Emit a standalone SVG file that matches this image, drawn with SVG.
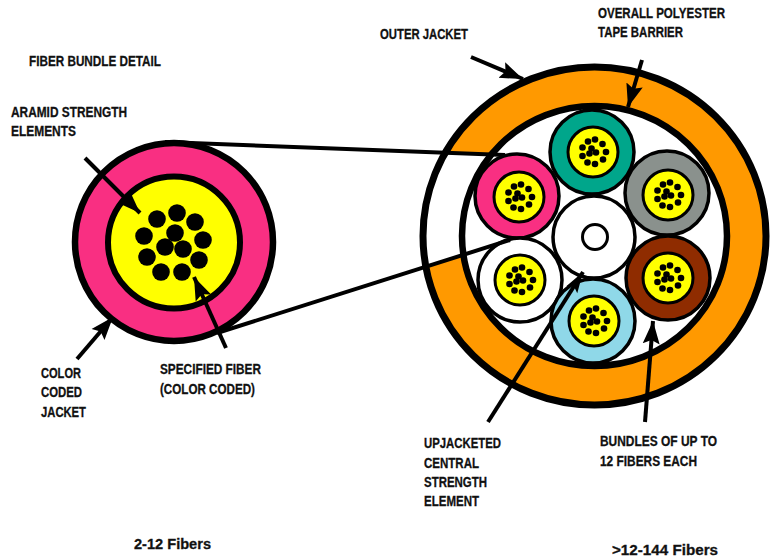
<svg xmlns="http://www.w3.org/2000/svg" width="775" height="559" viewBox="0 0 775 559">
<style>
text{font-family:"Liberation Sans",Arial,sans-serif;font-weight:700;font-size:14.500px;fill:#111;stroke:#111;stroke-width:.3}
.k{stroke:#000;fill:none}
.bj{stroke:#000;stroke-width:3.500}
.by{fill:#ff0;stroke:#000;stroke-width:3}
.ln{stroke:#000;stroke-width:4;fill:none}
</style>
<defs>
<marker id="ah" markerUnits="userSpaceOnUse" markerWidth="26" markerHeight="22" refX="23" refY="11" orient="auto">
<path d="M0 2.500L23 11L0 19.500L4 11Z" fill="#000"/>
</marker>
<marker id="ahn" markerUnits="userSpaceOnUse" markerWidth="26" markerHeight="22" refX="23" refY="11" orient="auto">
<path d="M2 4.500L23 11L2 17.500L6 11Z" fill="#000"/>
</marker>
<g id="core">
<circle class="by" r="25"/>
<g fill="#000">
<circle cx="-5" cy="-10.500" r="3.300"/><circle cx="2" cy="-12.500" r="3.300"/><circle cx="9.500" cy="-8" r="3.300"/><circle cx="13" cy="0" r="3.300"/><circle cx="10" cy="7.500" r="3.300"/><circle cx="2" cy="12" r="3.300"/><circle cx="-5.500" cy="10.500" r="3.300"/><circle cx="-10.500" cy="4" r="3.300"/><circle cx="-10.500" cy="-4.500" r="3.300"/><circle cx="-1.500" cy="-3.500" r="3.300"/><circle cx="-3.500" cy="1.500" r="3.300"/><circle cx="3" cy="0.500" r="3.300"/>
</g>
</g>
</defs>
<rect width="775" height="559" fill="#fff"/>

<g id="bundle-detail">
<circle cx="174" cy="242" r="99" fill="#f92f82" stroke="#000" stroke-width="6.500"/>
<circle cx="174" cy="242.500" r="66" fill="#ff0" stroke="#000" stroke-width="6"/>
<g fill="#000">
<circle cx="157" cy="219" r="8.800"/><circle cx="177" cy="213" r="8.800"/><circle cx="195" cy="222" r="8.800"/><circle cx="203" cy="240" r="8.800"/><circle cx="199" cy="260" r="8.800"/><circle cx="182" cy="272" r="8.800"/><circle cx="161" cy="272" r="8.800"/><circle cx="147" cy="257" r="8.800"/><circle cx="144" cy="236" r="8.800"/><circle cx="175" cy="233" r="8.800"/><circle cx="165" cy="247" r="8.800"/><circle cx="183" cy="249" r="8.800"/>
</g>
</g>

<g id="cable">
<ellipse cx="594.500" cy="236" rx="171.500" ry="169" fill="#f90"/>
<polygon points="412,151 500,155 500,241 412,272" fill="#fff"/>
<ellipse cx="594.500" cy="236" rx="171.500" ry="169" class="k" stroke-width="7"/>
<ellipse cx="594.500" cy="236" rx="132.500" ry="130" fill="#fff" stroke="#000" stroke-width="6.500"/>
</g>

<g id="bundle-teal"><circle cx="592" cy="152" r="42" fill="#00a68b" class="bj"/><use href="#core" x="593" y="152"/></g>
<g id="bundle-pink"><circle cx="517" cy="196" r="42" fill="#f92f82" class="bj"/><use href="#core" x="519" y="197"/></g>
<g id="bundle-gray"><circle cx="667" cy="193" r="42" fill="#8a918d" class="bj"/><use href="#core" x="668" y="195"/></g>
<g id="bundle-white"><circle cx="520" cy="280" r="42" fill="#fff" class="bj"/><use href="#core" x="520" y="280"/></g>
<g id="bundle-brown"><circle cx="668" cy="278" r="42" fill="#8f2c00" class="bj"/><use href="#core" x="668" y="278"/></g>
<g id="bundle-blue"><circle cx="593" cy="321" r="42" fill="#8fd8e8" class="bj"/><use href="#core" x="594" y="321"/></g>
<g id="central-element"><circle cx="594" cy="237" r="41" fill="#fff" class="bj"/><circle cx="595" cy="237" r="12.500" fill="#fff" stroke="#000" stroke-width="3"/></g>

<g id="connectors">
<path class="ln" d="M165 142L505 155"/>
<path class="ln" d="M217 333L510 240"/>
<path class="ln" marker-end="url(#ah)" d="M471 57L523 79"/>
<path class="ln" marker-end="url(#ah)" d="M642 60L628 107"/>
<path class="ln" marker-end="url(#ah)" d="M85 158L140 213"/>
<path class="ln" marker-end="url(#ah)" d="M77 359L113 317"/>
<path class="ln" marker-end="url(#ah)" d="M226 348L194 277"/>
<path class="ln" marker-end="url(#ahn)" d="M488 422L583 272"/>
<path class="ln" marker-end="url(#ah)" d="M645 422L653 321"/>
</g>

<g id="labels">
<text x="29" y="66" textLength="132" lengthAdjust="spacingAndGlyphs">FIBER BUNDLE DETAIL</text>
<text x="11" y="117" textLength="116" lengthAdjust="spacingAndGlyphs">ARAMID STRENGTH</text>
<text x="11" y="136" textLength="65" lengthAdjust="spacingAndGlyphs">ELEMENTS</text>
<text x="41" y="378" textLength="40" lengthAdjust="spacingAndGlyphs">COLOR</text>
<text x="41" y="397" textLength="41" lengthAdjust="spacingAndGlyphs">CODED</text>
<text x="41" y="417" textLength="45" lengthAdjust="spacingAndGlyphs">JACKET</text>
<text x="160" y="374" textLength="101" lengthAdjust="spacingAndGlyphs">SPECIFIED FIBER</text>
<text x="160" y="394" textLength="95" lengthAdjust="spacingAndGlyphs">(COLOR CODED)</text>
<text x="380" y="39" textLength="88" lengthAdjust="spacingAndGlyphs">OUTER JACKET</text>
<text x="598" y="18" textLength="127" lengthAdjust="spacingAndGlyphs">OVERALL POLYESTER</text>
<text x="598" y="37" textLength="85" lengthAdjust="spacingAndGlyphs">TAPE BARRIER</text>
<text x="424" y="448" textLength="77" lengthAdjust="spacingAndGlyphs">UPJACKETED</text>
<text x="424" y="468" textLength="55" lengthAdjust="spacingAndGlyphs">CENTRAL</text>
<text x="424" y="487" textLength="63" lengthAdjust="spacingAndGlyphs">STRENGTH</text>
<text x="424" y="506" textLength="55" lengthAdjust="spacingAndGlyphs">ELEMENT</text>
<text x="600" y="446" textLength="117" lengthAdjust="spacingAndGlyphs">BUNDLES OF UP TO</text>
<text x="600" y="466" textLength="97" lengthAdjust="spacingAndGlyphs">12 FIBERS EACH</text>
<text x="134" y="549" textLength="77" lengthAdjust="spacingAndGlyphs">2-12 Fibers</text>
<text x="612" y="555" textLength="106" lengthAdjust="spacingAndGlyphs">&gt;12-144 Fibers</text>
</g>
</svg>
